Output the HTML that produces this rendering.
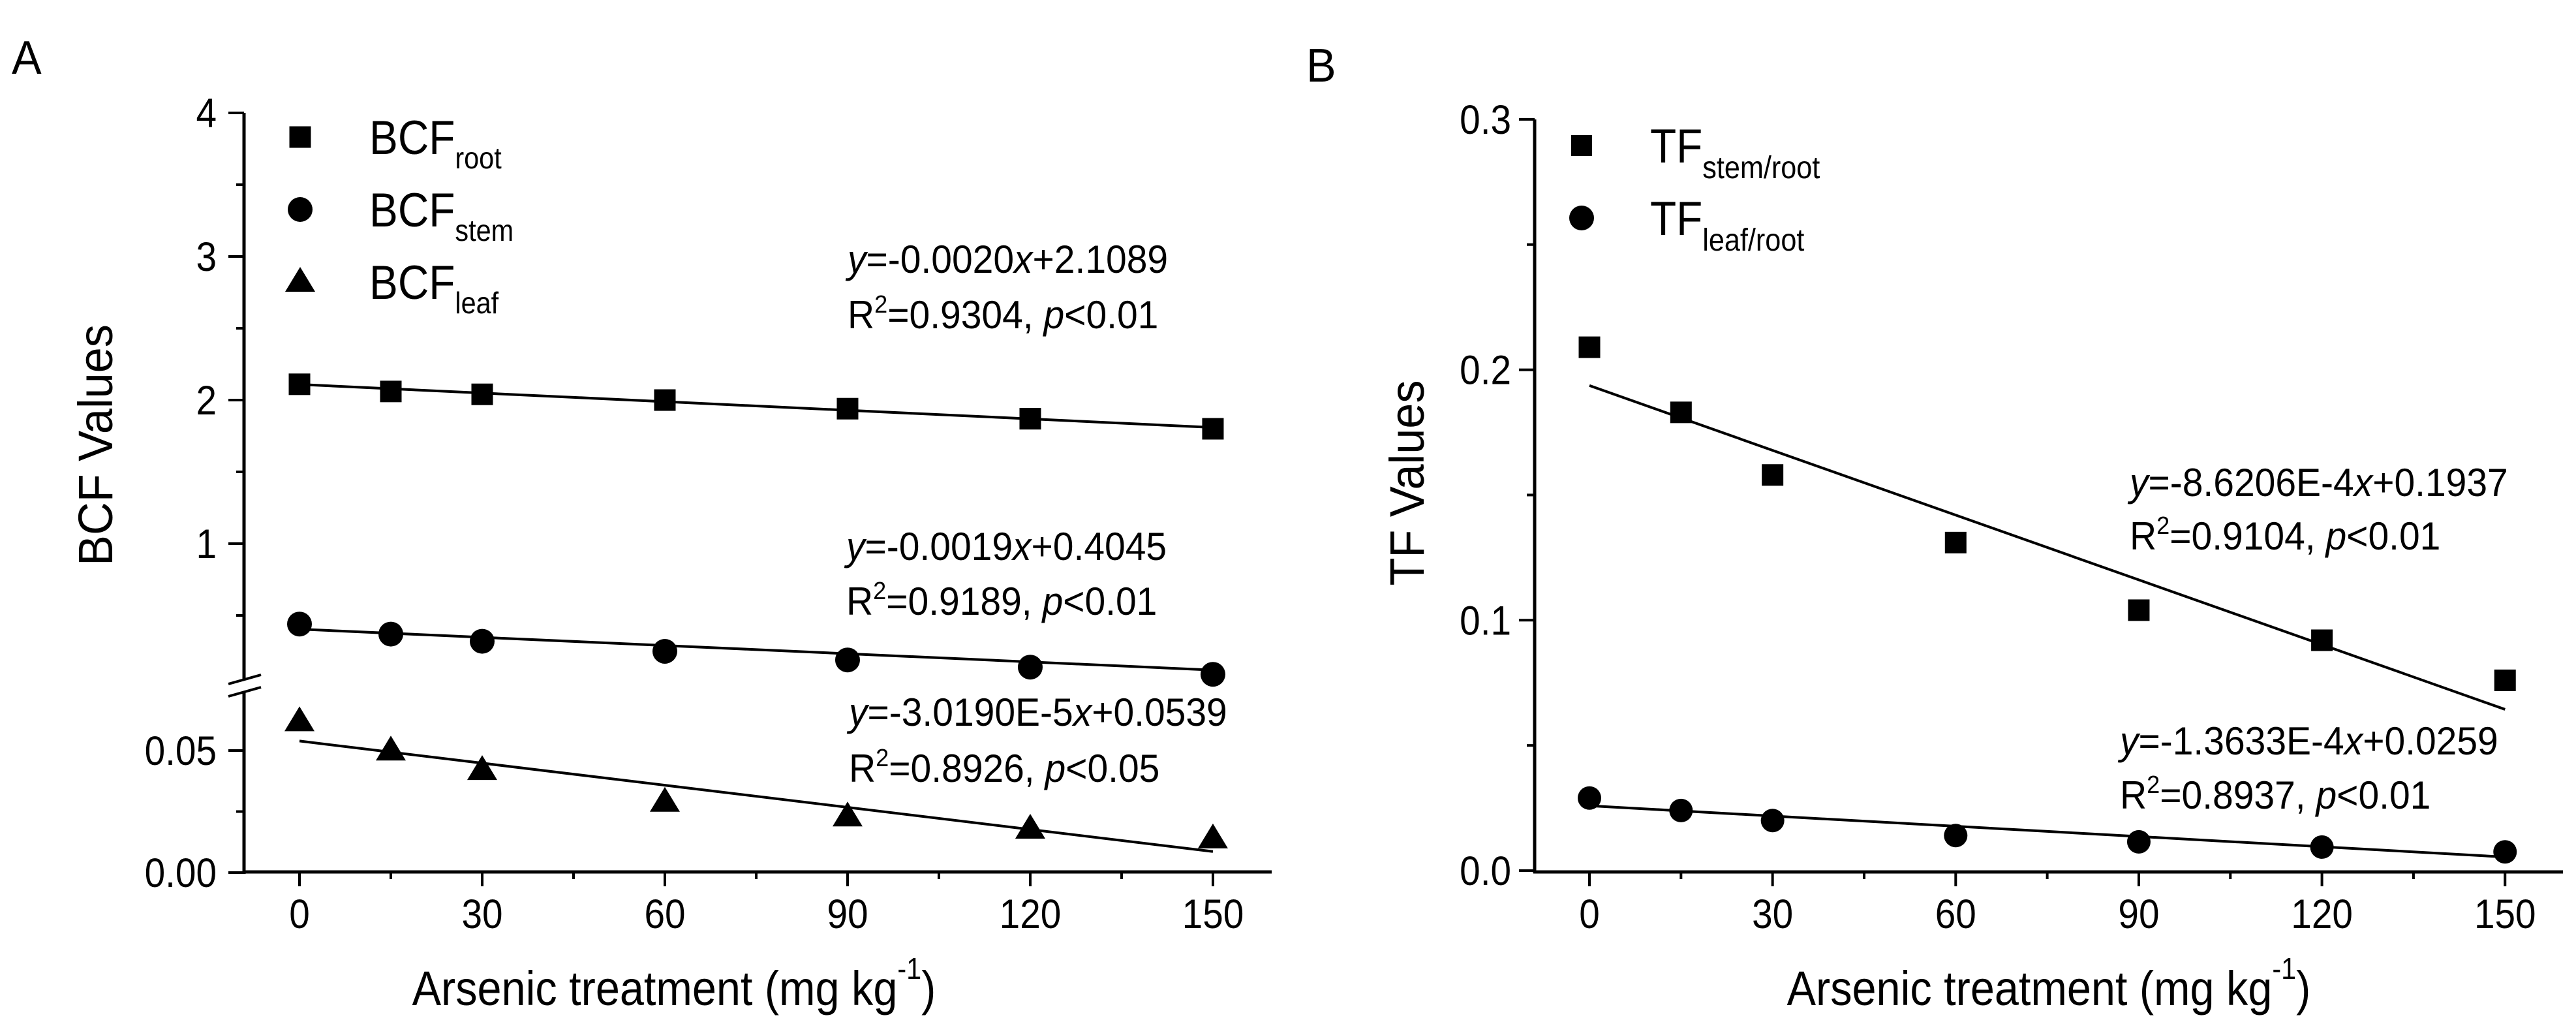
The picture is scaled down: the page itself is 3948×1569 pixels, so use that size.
<!DOCTYPE html>
<html><head><meta charset="utf-8">
<style>
html,body{margin:0;padding:0;background:#fff;}
svg{display:block;font-family:"Liberation Sans",Arial,sans-serif;}
</style></head>
<body>
<svg id="fig" width="3948" height="1569" viewBox="0 0 3948 1569" xmlns="http://www.w3.org/2000/svg">
<rect width="3948" height="1569" fill="#fff"/>
<g id="panelA"></g>
<g id="panelB"></g>
</svg>
<script>
// ---- data ----
const doses = [0, 15, 30, 60, 90, 120, 150];
const xTicks = [0, 30, 60, 90, 120, 150];
const xMinor = [15, 45, 75, 105, 135];
const bcfRoot = [2.11, 2.06, 2.04, 2.00, 1.94, 1.87, 1.80];
const bcfStem = [0.44, 0.37, 0.32, 0.25, 0.19, 0.14, 0.09];
const bcfLeaf = [0.063, 0.051, 0.043, 0.030, 0.024, 0.019, 0.015];
const fitRoot = [-0.0020, 2.1089];
const fitStem = [-0.0019, 0.4045];
const fitLeaf = [-3.0190e-4, 0.0539];
const aUpperTicks = [1, 2, 3, 4];
const aUpperMinor = [0.5, 1.5, 2.5, 3.5];
const aLowerTicks = [0.00, 0.05];
const aLowerTickLabels = ["0.00", "0.05"];
const aLowerMinor = [0.025];
const tfStem = [0.209, 0.183, 0.158, 0.131, 0.104, 0.092, 0.076];
const tfLeaf = [0.029, 0.024, 0.020, 0.014, 0.0115, 0.0094, 0.0075];
const fitTfStem = [-8.6206e-4, 0.1937];
const fitTfLeaf = [-1.3633e-4, 0.0259];
const bTicks = [0.0, 0.1, 0.2, 0.3];
const bTickLabels = ["0.0", "0.1", "0.2", "0.3"];
const bMinor = [0.05, 0.15, 0.25];

const NS = "http://www.w3.org/2000/svg";
function mk(parent, tag, attrs) {
  const e = document.createElementNS(NS, tag);
  for (const k in attrs) e.setAttribute(k, attrs[k]);
  parent.appendChild(e);
  return e;
}
function txt(parent, x, y, str, size, anchor, sx) {
  const t = mk(parent, "text", {x: 0, y: 0, "font-size": size, "text-anchor": anchor || "start", fill: "#000",
    transform: "translate(" + x + "," + y + ") scale(" + (sx || 0.9) + ",1)"});
  t.innerHTML = str;
  return t;
}

// ---- Panel A scales ----
const A = document.getElementById("panelA");
const axA = v => 459 + v * 9.333;
const ayU = v => 1053 - 220 * v;
const ayL = v => 1337 - 3740 * v;

// axes
const ax1 = mk(A, "line", {x1: 374, y1: 173, x2: 374, y2: 1040, stroke: "#000", "stroke-width": 5});


const ax2 = mk(A, "line", {x1: 374, y1: 1060, x2: 374, y2: 1339, stroke: "#000", "stroke-width": 5});


const ax3 = mk(A, "line", {x1: 372, y1: 1336, x2: 1949, y2: 1336, stroke: "#000", "stroke-width": 5});


const brk = mk(A, "g", {stroke: "#000", "stroke-width": 4});


mk(brk, "line", {x1: 350, y1: 1048, x2: 400, y2: 1034});
mk(brk, "line", {x1: 350, y1: 1067, x2: 400, y2: 1053});

aUpperTicks.forEach(v => {
  mk(A, "line", {x1: 350, y1: ayU(v), x2: 374, y2: ayU(v), stroke: "#000", "stroke-width": 4});
  const l = txt(A, 332, ayU(v) + 22, String(v), 63, "end");
  
  
});
aUpperMinor.forEach(v => mk(A, "line", {x1: 362, y1: ayU(v), x2: 374, y2: ayU(v), stroke: "#000", "stroke-width": 4}));
aLowerTicks.forEach((v, i) => {
  mk(A, "line", {x1: 350, y1: ayL(v), x2: 374, y2: ayL(v), stroke: "#000", "stroke-width": 4});
  const l = txt(A, 332, ayL(v) + 22, aLowerTickLabels[i], 63, "end");
  
  
});
aLowerMinor.forEach(v => mk(A, "line", {x1: 362, y1: ayL(v), x2: 374, y2: ayL(v), stroke: "#000", "stroke-width": 4}));
xTicks.forEach(v => {
  mk(A, "line", {x1: axA(v), y1: 1336, x2: axA(v), y2: 1358, stroke: "#000", "stroke-width": 4});
  const l = txt(A, axA(v), 1422, String(v), 63, "middle");
  
  
});
xMinor.forEach(v => mk(A, "line", {x1: axA(v), y1: 1336, x2: axA(v), y2: 1347, stroke: "#000", "stroke-width": 4}));

// fit lines
function fitLine(g, fit, xs, ys, name) {
  const l = mk(g, "line", {x1: xs(0), y1: ys(fit[1]), x2: xs(150), y2: ys(fit[1] + fit[0] * 150), stroke: "#000", "stroke-width": 4});
  
  
}
fitLine(A, fitRoot, axA, ayU, 'fit-line-root');
fitLine(A, fitStem, axA, ayU, 'fit-line-stem');
fitLine(A, fitLeaf, axA, ayL, 'fit-line-leaf');

function square(g, cx, cy, s) { return mk(g, "rect", {x: cx - s / 2, y: cy - s / 2, width: s, height: s, fill: "#000"}); }
function circle(g, cx, cy, r) { return mk(g, "ellipse", {cx: cx, cy: cy, rx: r, ry: r, fill: "#000"}); }
function tri(g, cx, cy, w, h) { return mk(g, "polygon", {points: (cx - w / 2) + "," + (cy + h / 2) + " " + (cx + w / 2) + "," + (cy + h / 2) + " " + cx + "," + (cy - h / 2), fill: "#000"}); }

doses.forEach((d, i) => {
  const p = square(A, axA(d), ayU(bcfRoot[i]), 33);
  
  
  const c = circle(A, axA(d), ayU(bcfStem[i]), 19);
  
  
  const t = tri(A, axA(d), ayL(bcfLeaf[i]), 46, 38);
  
  
});

// legend A
const legA = mk(A, "g", {});


square(legA, 460, 210, 33);
circle(legA, 460, 321, 19);
tri(legA, 460, 428, 46, 38);
txt(legA, 566, 236, 'BCF<tspan font-size="46" dy="22">root</tspan>', 73, "start");
txt(legA, 566, 347, 'BCF<tspan font-size="46" dy="22">stem</tspan>', 73, "start");
txt(legA, 566, 458, 'BCF<tspan font-size="46" dy="22">leaf</tspan>', 73, "start");

// equations A
function eq(g, x, y1, y2, line1, line2, name) {
  const e = mk(g, "g", {});
  
  
  txt(e, x, y1, line1, 60, "start", 0.95);
  txt(e, x, y2, line2, 60, "start", 0.95);
}
eq(A, 1299, 418, 503, '<tspan font-style="italic">y</tspan>=-0.0020<tspan font-style="italic">x</tspan>+2.1089', 'R<tspan font-size="38" dy="-24">2</tspan><tspan dy="24">=0.9304, </tspan><tspan font-style="italic">p</tspan>&lt;0.01', 'equation-root');
eq(A, 1297, 858, 942, '<tspan font-style="italic">y</tspan>=-0.0019<tspan font-style="italic">x</tspan>+0.4045', 'R<tspan font-size="38" dy="-24">2</tspan><tspan dy="24">=0.9189, </tspan><tspan font-style="italic">p</tspan>&lt;0.01', 'equation-stem');
eq(A, 1301, 1112, 1198, '<tspan font-style="italic">y</tspan>=-3.0190E-5<tspan font-style="italic">x</tspan>+0.0539', 'R<tspan font-size="38" dy="-24">2</tspan><tspan dy="24">=0.8926, </tspan><tspan font-style="italic">p</tspan>&lt;0.05', 'equation-leaf');

// titles A
const ytA = txt(A, 0, 0, "BCF Values", 74, "middle");
ytA.setAttribute("transform", "translate(172,682) rotate(-90) scale(0.95,1)");


const xtA = txt(A, 1033, 1540, 'Arsenic treatment (mg kg<tspan font-size="46" dy="-40">-1</tspan><tspan dy="40">)</tspan>', 74, "middle");


const la = txt(A, 18, 113, "A", 72, "start", 0.95);



// ---- Panel B ----
const B = document.getElementById("panelB");
const bx = v => 2436 + v * 9.355;
const by = v => 1334 - 3837 * v;

const bya = mk(B, "line", {x1: 2352, y1: 183, x2: 2352, y2: 1338, stroke: "#000", "stroke-width": 5});


const bxa = mk(B, "line", {x1: 2350, y1: 1336, x2: 3928, y2: 1336, stroke: "#000", "stroke-width": 5});


bTicks.forEach((v, i) => {
  mk(B, "line", {x1: 2328, y1: by(v), x2: 2352, y2: by(v), stroke: "#000", "stroke-width": 4});
  const l = txt(B, 2316, by(v) + 22, bTickLabels[i], 63, "end");
  
  
});
bMinor.forEach(v => mk(B, "line", {x1: 2340, y1: by(v), x2: 2352, y2: by(v), stroke: "#000", "stroke-width": 4}));
xTicks.forEach(v => {
  mk(B, "line", {x1: bx(v), y1: 1336, x2: bx(v), y2: 1358, stroke: "#000", "stroke-width": 4});
  const l = txt(B, bx(v), 1422, String(v), 63, "middle");
  
  
});
xMinor.forEach(v => mk(B, "line", {x1: bx(v), y1: 1336, x2: bx(v), y2: 1347, stroke: "#000", "stroke-width": 4}));

fitLine(B, fitTfStem, bx, by, 'fit-line-tf-stem');
fitLine(B, fitTfLeaf, bx, by, 'fit-line-tf-leaf');

doses.forEach((d, i) => {
  const p = square(B, bx(d), by(tfStem[i]), 33);
  
  
  const c = circle(B, bx(d), by(tfLeaf[i]), 18);
  
  
});

const legB = mk(B, "g", {});


square(legB, 2424, 223, 32);
circle(legB, 2424, 334, 19);
txt(legB, 2529, 249, 'TF<tspan font-size="48" dy="24">stem/root</tspan>', 73, "start");
txt(legB, 2529, 360, 'TF<tspan font-size="48" dy="24">leaf/root</tspan>', 73, "start");

eq(B, 3264, 760, 842, '<tspan font-style="italic">y</tspan>=-8.6206E-4<tspan font-style="italic">x</tspan>+0.1937', 'R<tspan font-size="38" dy="-24">2</tspan><tspan dy="24">=0.9104, </tspan><tspan font-style="italic">p</tspan>&lt;0.01', 'equation-tf-stem');
eq(B, 3249, 1156, 1239, '<tspan font-style="italic">y</tspan>=-1.3633E-4<tspan font-style="italic">x</tspan>+0.0259', 'R<tspan font-size="38" dy="-24">2</tspan><tspan dy="24">=0.8937, </tspan><tspan font-style="italic">p</tspan>&lt;0.01', 'equation-tf-leaf');

const ytB = txt(B, 0, 0, "TF Values", 74, "middle");
ytB.setAttribute("transform", "translate(2182,740) rotate(-90) scale(0.95,1)");


const xtB = txt(B, 3140, 1540, 'Arsenic treatment (mg kg<tspan font-size="46" dy="-40">-1</tspan><tspan dy="40">)</tspan>', 74, "middle");


const lb = txt(B, 2002, 125, "B", 72, "start", 0.95);


</script>
</body></html>
